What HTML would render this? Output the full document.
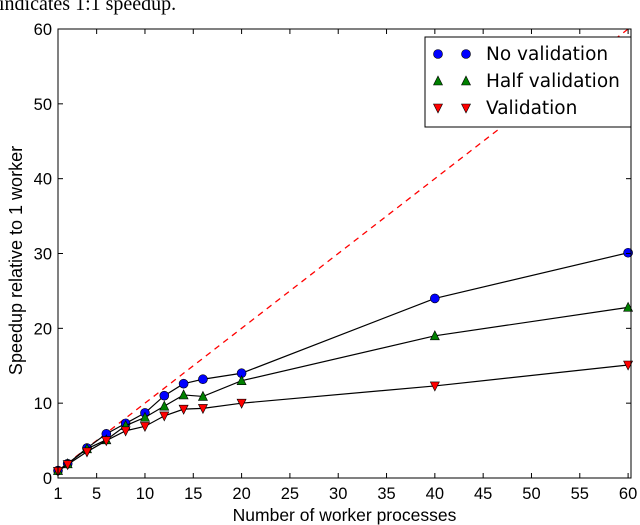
<!DOCTYPE html>
<html><head><meta charset="utf-8"><style>
body{margin:0;background:#fff;}
svg{display:block;font-family:"Liberation Sans",sans-serif;}
</style></head><body>
<svg id="c" width="640" height="525">
<text x="-1" y="10" font-family="Liberation Serif,serif" font-size="20">indicates 1:1 speedup.</text>
</svg>
<script>
const xs=[1,2,4,6,8,10,12,14,16,20,40,60];
const noVal=[1,1.9,4.0,5.9,7.3,8.7,11.0,12.6,13.2,14.0,24.0,30.1];
const halfVal=[1,1.9,3.9,5.1,7.0,8.1,9.6,11.1,10.9,13.0,19.0,22.8];
const fullVal=[0.9,1.8,3.5,5.0,6.3,6.9,8.3,9.2,9.3,10.0,12.3,15.1];
const xTicks=[1,5,10,15,20,25,30,35,40,45,50,55,60];
const yTicks=[0,10,20,30,40,50,60];
const ideal=[1,60];
const NS='http://www.w3.org/2000/svg';
const svg=document.getElementById('c');
const L=58,R=631,T=29,B=478;
const X=v=>L+(v-1)/(60.3-1)*(R-L);
const Y=v=>B-v/60*(B-T);
function el(t,a,p){const e=document.createElementNS(NS,t);for(const k in a)e.setAttribute(k,a[k]);(p||svg).appendChild(e);return e;}
const clip=el('clipPath',{id:'cp'});el('rect',{x:L,y:T,width:R-L,height:B-T},clip);
const idl=el('polyline',{points:ideal.map(v=>X(v)+','+Y(v)).join(' '),fill:'none',stroke:'#f00','stroke-width':1.3,'stroke-dasharray':'6,5','clip-path':'url(#cp)'});


function marker(type,x,y,fill,g){
 let m;
 if(type==='o')m=el('circle',{cx:x,cy:y,r:4.5,fill:fill,stroke:'#000','stroke-width':0.6},g);
 else if(type==='^')m=el('polygon',{points:`${x},${y-5} ${x-4.5},${y+4} ${x+4.5},${y+4}`,fill:fill,stroke:'#000','stroke-width':0.6},g);
 else m=el('polygon',{points:`${x},${y+5} ${x-4.5},${y-4} ${x+4.5},${y-4}`,fill:fill,stroke:'#000','stroke-width':0.6},g);
 return m;
}
const series=[[noVal,'o','#0000ff','no-validation'],[halfVal,'^','#008000','half-validation'],[fullVal,'v','#ff0000','validation']];
series.forEach(([vals,t,c,n])=>{
 const g=el('g',{});
 
 
 el('polyline',{points:vals.map((v,i)=>X(xs[i])+','+Y(v)).join(' '),fill:'none',stroke:'#000','stroke-width':1.2},g);
 vals.forEach((v,i)=>{const m=marker(t,X(xs[i]),Y(v),c,g);
  
  });
});
const fr=el('rect',{x:L,y:T,width:R-L,height:B-T,fill:'none',stroke:'#000','stroke-width':1});


xTicks.forEach(v=>{const x=X(v);
 el('line',{x1:x,x2:x,y1:B,y2:B-5,stroke:'#000'});el('line',{x1:x,x2:x,y1:T,y2:T+5,stroke:'#000'});
 const t=el('text',{x:x,y:B+21,'text-anchor':'middle','font-size':16.5});t.textContent=v;
 
 });
yTicks.forEach(v=>{const y=Y(v);
 el('line',{x1:L,x2:L+5,y1:y,y2:y,stroke:'#000'});el('line',{x1:R,x2:R-5,y1:y,y2:y,stroke:'#000'});
 const t=el('text',{x:L-6,y:y+6,'text-anchor':'end','font-size':16.5});t.textContent=v;
 
 });
const xl=el('text',{x:(L+R)/2,y:521,'text-anchor':'middle','font-size':17.5});xl.textContent='Number of worker processes';


const yl=el('text',{x:0,y:0,'text-anchor':'middle','font-size':18,transform:`translate(22,${(T+B)/2+7}) rotate(-90)`});yl.textContent='Speedup relative to 1 worker';


const lg=el('g',{});


el('rect',{x:425,y:37,width:206,height:90,fill:'#fff',stroke:'#000','stroke-width':1},lg);
const labels=['No validation','Half validation','Validation'];
series.forEach(([v,t,c,n],i)=>{const y=54+i*27;
 marker(t,438,y,c,lg);marker(t,466,y,c,lg);
 const tx=el('text',{x:486,y:y+6,'font-size':18.5,'font-family':'DejaVu Sans,sans-serif'},lg);tx.textContent=labels[i];
 
 });
</script>
</body></html>
